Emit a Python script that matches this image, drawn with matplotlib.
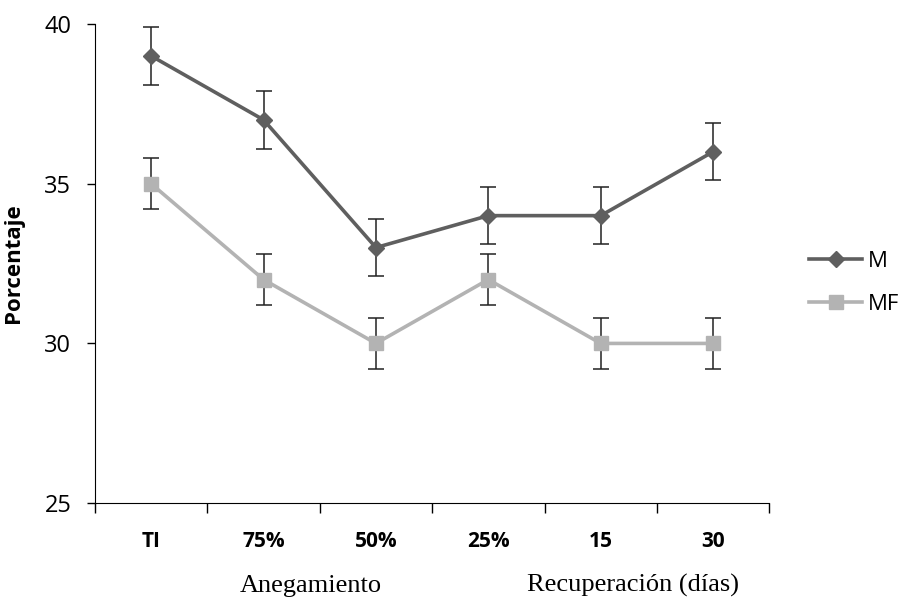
import matplotlib.pyplot as plt
import numpy as np

categories = ['TI', '75%', '50%', '25%', '15', '30']
m_values = [39, 37, 33, 34, 34, 36]
m_err = [0.9, 0.9, 0.9, 0.9, 0.9, 0.9]
mf_values = [35, 32, 30, 32, 30, 30]
mf_err = [0.8, 0.8, 0.8, 0.8, 0.8, 0.8]

x = np.arange(len(categories))

fig = plt.figure(figsize=(9.04, 5.99), dpi=100)
ax = fig.add_axes([0.105, 0.160, 0.746, 0.800])

ax.errorbar(x, m_values, yerr=m_err, color='#5f5f5f', lw=2.6, marker='D', ms=8.5,
            ecolor='#222222', elinewidth=1.1, capsize=5.5, capthick=1.1, label='M', zorder=3)
ax.errorbar(x, mf_values, yerr=mf_err, color='#b3b3b3', lw=2.6, marker='s', ms=9.5,
            ecolor='#222222', elinewidth=1.1, capsize=5.5, capthick=1.1, label='MF', zorder=2)

ax.set_xlim(-0.5, len(categories) - 0.5)
ax.set_ylim(25, 40)
ax.set_yticks([25, 30, 35, 40])
ax.set_yticklabels(['25', '30', '35', '40'], fontsize=17, family='Open Sans')
ax.tick_params(axis='y', length=6, width=1, pad=11)

ax.set_xticks(x)
ax.set_xticklabels(categories, fontsize=15, fontweight='bold', family='Open Sans')
ax.tick_params(axis='x', length=0, pad=20)
ax.set_xticks(np.arange(len(categories) + 1) - 0.5, minor=True)
ax.tick_params(axis='x', which='minor', length=7, width=1, direction='out')

ax.spines['top'].set_visible(False)
ax.spines['right'].set_visible(False)

ax.set_ylabel('Porcentaje', fontsize=16, fontweight='bold', family='Open Sans')
ax.yaxis.set_label_coords(-0.105, 0.5)

fig.text(311 / 904, 1 - 592 / 599, 'Anegamiento', ha='center', va='baseline',
         fontsize=19, family='Liberation Serif')
fig.text(527 / 904, 1 - 592 / 599, 'Recuperación (días)', ha='left', va='baseline',
         fontsize=19, family='Liberation Serif')

handles, labels = ax.get_legend_handles_labels()
handles = [h[0] for h in handles]
leg = fig.legend(handles, labels, loc='center left', bbox_to_anchor=(809 / 904, 0.528),
                 frameon=False, borderpad=0, borderaxespad=0, labelspacing=1.0,
                 handlelength=2.4, handletextpad=0.25,
                 prop={'family': 'Open Sans', 'size': 16})

fig.savefig('out.png', dpi=100)
